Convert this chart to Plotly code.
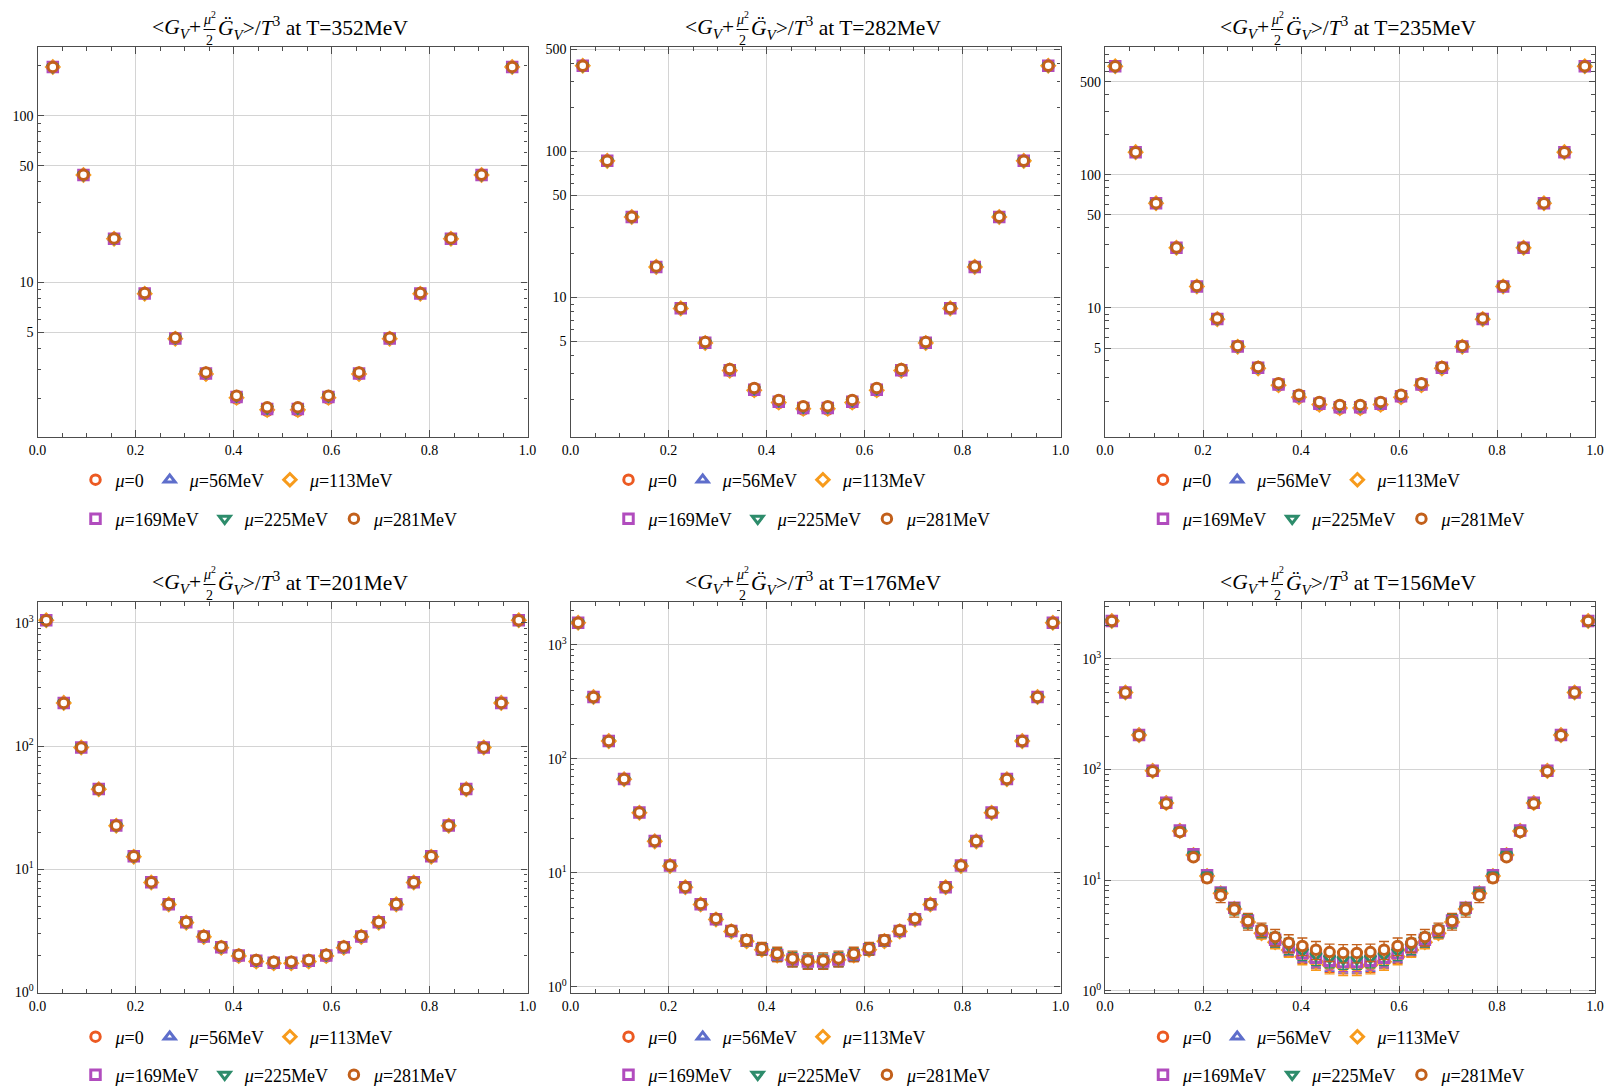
import numpy as np
import plotly.graph_objects as go

W, H = 1605, 1086

# temperatures and number of time slices of each panel
temperatures_mev = [352, 282, 235, 201, 176, 156]
n_tau = [16, 20, 24, 28, 32, 36]

mu_names = ["0", "56MeV", "113MeV", "169MeV", "225MeV", "281MeV"]
mu_colors = ["#EC5A22", "#5E6ECB", "#F79B1C", "#B14CBE", "#2D8C6B", "#C2601B"]
mu_symbols = ["circle", "triangle-up", "diamond", "square", "triangle-down", "circle"]

# <G_V + mu^2/2 G_V''>/T^3 for tau*T < 1/2 (the correlator is symmetric about 1/2)
# one row per chemical potential, ordered as mu_names
corr_T352 = [
    [196, 44.0, 18.2, 8.50, 4.55, 2.79, 2.00, 1.69],
    [196, 44.0, 18.2, 8.51, 4.56, 2.80, 2.01, 1.70],
    [196, 44.0, 18.2, 8.52, 4.57, 2.81, 2.02, 1.71],
    [196, 44.0, 18.2, 8.54, 4.59, 2.83, 2.04, 1.73],
    [196, 44.1, 18.3, 8.56, 4.61, 2.85, 2.06, 1.75],
    [196, 44.1, 18.3, 8.59, 4.63, 2.87, 2.08, 1.77],
]
corr_T282 = [
    [386, 86.2, 35.6, 16.2, 8.40, 4.86, 3.14, 2.30, 1.89, 1.71],
    [386, 86.2, 35.6, 16.2, 8.41, 4.87, 3.15, 2.31, 1.90, 1.72],
    [386, 86.2, 35.6, 16.2, 8.42, 4.88, 3.16, 2.32, 1.91, 1.73],
    [386, 86.2, 35.6, 16.2, 8.44, 4.90, 3.18, 2.34, 1.93, 1.75],
    [386, 86.3, 35.7, 16.3, 8.46, 4.92, 3.21, 2.37, 1.96, 1.77],
    [386, 86.3, 35.7, 16.3, 8.49, 4.95, 3.24, 2.40, 1.99, 1.80],
]
corr_T235 = [
    [653, 148, 61.2, 28.3, 14.5, 8.22, 5.09, 3.50, 2.61, 2.12, 1.86, 1.75],
    [653, 148, 61.2, 28.3, 14.5, 8.23, 5.10, 3.51, 2.62, 2.13, 1.87, 1.76],
    [653, 148, 61.2, 28.3, 14.5, 8.24, 5.11, 3.52, 2.63, 2.14, 1.88, 1.77],
    [653, 148, 61.2, 28.3, 14.5, 8.26, 5.13, 3.55, 2.66, 2.17, 1.91, 1.80],
    [653, 148, 61.3, 28.4, 14.6, 8.29, 5.16, 3.58, 2.69, 2.20, 1.94, 1.83],
    [653, 148, 61.3, 28.4, 14.6, 8.32, 5.19, 3.61, 2.72, 2.23, 1.97, 1.87],
]
corr_T201 = [
    [1051, 224, 97.4, 44.6, 22.5, 12.6, 7.78, 5.16, 3.67, 2.80, 2.28, 1.95, 1.77, 1.71],
    [1051, 224, 97.4, 44.6, 22.5, 12.6, 7.79, 5.17, 3.68, 2.81, 2.29, 1.96, 1.78, 1.72],
    [1051, 224, 97.4, 44.6, 22.5, 12.6, 7.79, 5.17, 3.68, 2.82, 2.30, 1.97, 1.78, 1.72],
    [1051, 224, 97.5, 44.7, 22.6, 12.7, 7.81, 5.19, 3.70, 2.84, 2.32, 1.99, 1.80, 1.74],
    [1051, 224, 97.5, 44.7, 22.6, 12.7, 7.82, 5.20, 3.71, 2.85, 2.33, 2.00, 1.81, 1.75],
    [1051, 224, 97.5, 44.7, 22.6, 12.7, 7.84, 5.22, 3.73, 2.87, 2.35, 2.02, 1.83, 1.77],
]
corr_T176 = [
    [1560, 348, 143, 66.3, 33.7, 18.9, 11.5, 7.46, 5.26, 3.88, 3.05, 2.50, 2.10, 1.87, 1.71, 1.64],
    [1560, 348, 143, 66.3, 33.7, 18.9, 11.5, 7.47, 5.27, 3.89, 3.06, 2.51, 2.11, 1.88, 1.72, 1.65],
    [1560, 348, 143, 66.3, 33.7, 18.9, 11.5, 7.48, 5.28, 3.90, 3.07, 2.52, 2.12, 1.89, 1.73, 1.66],
    [1560, 348, 143, 66.4, 33.8, 19.0, 11.6, 7.50, 5.30, 3.92, 3.09, 2.54, 2.14, 1.91, 1.74, 1.67],
    [1560, 348, 143, 66.4, 33.8, 19.0, 11.6, 7.52, 5.32, 3.94, 3.11, 2.56, 2.16, 1.93, 1.76, 1.69],
    [1560, 348, 143, 66.4, 33.8, 19.0, 11.6, 7.54, 5.35, 3.97, 3.14, 2.58, 2.18, 1.95, 1.78, 1.71],
]
corr_T156 = [
    [2203, 497, 205, 97.5, 50.0, 28.0, 17.0, 11.0, 7.65, 5.55, 4.22, 3.36, 2.79, 2.38, 2.08, 1.88, 1.76, 1.71],
    [2203, 497, 205, 97.5, 50.0, 28.0, 17.0, 11.0, 7.65, 5.56, 4.24, 3.38, 2.81, 2.41, 2.11, 1.91, 1.79, 1.74],
    [2203, 497, 205, 97.4, 49.9, 27.9, 16.9, 10.9, 7.60, 5.50, 4.18, 3.32, 2.75, 2.34, 2.03, 1.83, 1.71, 1.66],
    [2203, 497, 205, 97.6, 50.2, 28.2, 17.2, 11.1, 7.72, 5.62, 4.31, 3.45, 2.89, 2.48, 2.19, 1.99, 1.87, 1.82],
    [2203, 497, 205, 97.4, 50.0, 28.0, 17.0, 11.0, 7.62, 5.56, 4.30, 3.47, 2.93, 2.55, 2.28, 2.09, 1.98, 1.93],
    [2203, 497, 204, 96.6, 49.3, 27.2, 16.1, 10.4, 7.27, 5.43, 4.27, 3.59, 3.06, 2.72, 2.54, 2.35, 2.24, 2.20],
]

# statistical errors (only resolvable at the two lowest temperatures)
err_T176 = [
    [10, 2.5, 1.0, 0.5, 0.30, 0.18, 0.14, 0.13, 0.14, 0.16, 0.18, 0.19, 0.20, 0.20, 0.20, 0.20],
    [10, 2.5, 1.0, 0.5, 0.30, 0.18, 0.14, 0.13, 0.14, 0.16, 0.18, 0.19, 0.20, 0.20, 0.20, 0.20],
    [10, 2.5, 1.0, 0.5, 0.30, 0.18, 0.14, 0.13, 0.14, 0.16, 0.18, 0.19, 0.20, 0.20, 0.20, 0.20],
    [11, 2.7, 1.1, 0.5, 0.32, 0.20, 0.15, 0.14, 0.16, 0.18, 0.21, 0.22, 0.23, 0.23, 0.23, 0.23],
    [11, 2.8, 1.1, 0.6, 0.33, 0.21, 0.16, 0.15, 0.18, 0.20, 0.23, 0.25, 0.25, 0.25, 0.25, 0.25],
    [12, 3.0, 1.2, 0.6, 0.35, 0.22, 0.18, 0.17, 0.20, 0.22, 0.26, 0.28, 0.28, 0.28, 0.28, 0.28],
]
err_T156 = [
    [15, 3.8, 1.7, 1.0, 0.70, 0.60, 0.60, 0.60, 0.60, 0.50, 0.45, 0.38, 0.35, 0.33, 0.31, 0.30, 0.29, 0.29],
    [15, 3.8, 1.7, 1.0, 0.70, 0.60, 0.60, 0.60, 0.60, 0.50, 0.45, 0.38, 0.35, 0.33, 0.31, 0.30, 0.29, 0.29],
    [15, 3.8, 1.7, 1.0, 0.70, 0.60, 0.60, 0.60, 0.60, 0.50, 0.45, 0.38, 0.35, 0.33, 0.31, 0.30, 0.29, 0.29],
    [16, 4.0, 1.8, 1.1, 0.75, 0.65, 0.65, 0.70, 0.75, 0.60, 0.55, 0.42, 0.40, 0.38, 0.36, 0.35, 0.33, 0.33],
    [17, 4.2, 1.9, 1.1, 0.80, 0.75, 0.75, 0.80, 0.85, 0.70, 0.62, 0.45, 0.45, 0.43, 0.41, 0.40, 0.37, 0.37],
    [18, 4.5, 2.0, 1.2, 0.90, 0.85, 0.85, 0.90, 1.00, 0.80, 0.73, 0.50, 0.52, 0.49, 0.46, 0.44, 0.40, 0.41],
]

corr_by_panel = [corr_T352, corr_T282, corr_T235, corr_T201, corr_T176, corr_T156]
err_by_panel = [None, None, None, None, err_T176, err_T156]

# log10 ranges of the y axes
y_ranges = [[0.07, 2.412], [0.045, 2.715], [0.031, 2.96],
            [-0.006, 3.17], [-0.053, 3.375], [-0.02, 3.515]]

x_ticks = [0.0, 0.2, 0.4, 0.6, 0.8, 1.0]
x_tick_text = ["0.0", "0.2", "0.4", "0.6", "0.8", "1.0"]

FONT = "Liberation Serif, Times New Roman, serif"
FRAME = "#4d4d4d"
GRID = "#d4d4d4"

# panel placement in pixels
panel_left = [37.5, 570.5, 1105.0]
panel_top = [47.0, 602.0]
panel_w = 490.0
panel_h = [390.0, 391.0]
legend_rows_y = [[480, 519], [1037, 1075]]


def mirror(half):
    return list(half) + list(half[::-1])


fig = go.Figure()
layout = dict(
    template="none",
    width=W, height=H,
    margin=dict(l=0, r=0, t=0, b=0, autoexpand=False),
    paper_bgcolor="white", plot_bgcolor="white",
    font=dict(family=FONT, color="black"),
    hovermode="closest",
    annotations=[], shapes=[],
)

minor_x = [round(0.05 * i, 2) for i in range(1, 20) if i % 4 != 0]

for k in range(6):
    row, col = divmod(k, 3)
    ax = "" if k == 0 else str(k + 1)
    x0 = panel_left[col]
    y0 = panel_top[row]
    h = panel_h[row]

    N = n_tau[k]
    tau = (np.arange(N) + 0.5) / N
    rows = corr_by_panel[k]
    errs = err_by_panel[k]

    for m in range(6):
        lid = 2 * k + (0 if m < 3 else 1) + 1
        legend_name = "legend" if lid == 1 else f"legend{lid}"
        err = None
        if errs is not None:
            err = dict(type="data", array=mirror(errs[m]), color=mu_colors[m],
                       thickness=1.3, width=5, visible=True)
        fig.add_trace(go.Scatter(
            x=tau, y=mirror(rows[m]),
            mode="markers",
            name=f"<i>μ</i>={mu_names[m]}",
            legend=legend_name,
            xaxis="x" + ax, yaxis="y" + ax,
            marker=dict(symbol=mu_symbols[m], size=9.5, color="white",
                        line=dict(color=mu_colors[m], width=3)),
            error_y=err,
            hoverinfo="x+y",
        ))

    for half in range(2):
        lid = 2 * k + half + 1
        legend_name = "legend" if lid == 1 else f"legend{lid}"
        layout[legend_name] = dict(
            orientation="h", xanchor="left", yanchor="middle",
            x=(x0 + 38) / W, y=1 - legend_rows_y[row][half] / H,
            font=dict(family=FONT, size=18, color="black"),
            bgcolor="rgba(0,0,0,0)", borderwidth=0,
            itemwidth=30, traceorder="normal",
        )

    if k < 3:
        ytv = [5, 10, 50, 100, 500]
        ytt = ["5", "10", "50", "100", "500"]
        minor_y = [d * 10 ** e for e in range(0, 4) for d in range(1, 10)
                   if d not in (1, 5)]
    else:
        ytv = [1, 10, 100, 1000]
        ytt = ["10<sup>0</sup>", "10<sup>1</sup>", "10<sup>2</sup>", "10<sup>3</sup>"]
        minor_y = [d * 10 ** e for e in range(0, 4) for d in range(2, 10)]

    layout["xaxis" + ax] = dict(
        domain=[x0 / W, (x0 + panel_w) / W], anchor="y" + ax,
        automargin=False,
        range=[0, 1], tickvals=x_ticks, ticktext=x_tick_text,
        ticks="inside", ticklen=7, tickwidth=1, tickcolor=FRAME,
        showline=True, linecolor=FRAME, linewidth=1.3, mirror="ticks",
        showgrid=True, gridcolor=GRID, gridwidth=1, zeroline=False,
        tickfont=dict(family=FONT, size=14, color="black"),
        minor=dict(tickvals=minor_x, ticks="inside", ticklen=4,
                   tickcolor=FRAME, showgrid=False),
        fixedrange=True,
    )
    layout["yaxis" + ax] = dict(
        domain=[1 - (y0 + h) / H, 1 - y0 / H], anchor="x" + ax,
        automargin=False,
        type="log", range=y_ranges[k], tickvals=ytv, ticktext=ytt,
        ticks="inside", ticklen=6, tickwidth=1, tickcolor=FRAME,
        showline=True, linecolor=FRAME, linewidth=1.3, mirror="ticks",
        showgrid=True, gridcolor=GRID, gridwidth=1, zeroline=False,
        tickfont=dict(family=FONT, size=14, color="black"),
        minor=dict(tickvals=minor_y, ticks="inside", ticklen=3.5,
                   tickcolor=FRAME, showgrid=False),
        fixedrange=True,
    )

    # panel title with a stacked mu^2/2 fraction
    cx = x0 + panel_w / 2
    fx = cx - 73
    yc = y0 - 19
    T = temperatures_mev[k]
    layout["annotations"] += [
        dict(xref="paper", yref="paper", x=(fx - 6.5) / W, y=1 - yc / H,
             xanchor="right", yanchor="middle", showarrow=False,
             text="&lt;<i>G</i><sub><i>V</i></sub>+<sup>\u200b</sup>",
             font=dict(family=FONT, size=21.5, color="black")),
        dict(xref="paper", yref="paper", x=fx / W, y=1 - (yc - 10.5) / H,
             xanchor="center", yanchor="middle", showarrow=False,
             text="<i>μ</i><sup>2</sup>",
             font=dict(family=FONT, size=14, color="black")),
        dict(xref="paper", yref="paper", x=fx / W, y=1 - (yc + 12.5) / H,
             xanchor="center", yanchor="middle", showarrow=False,
             text="2", font=dict(family=FONT, size=14, color="black")),
        dict(xref="paper", yref="paper", x=(fx + 6.5) / W, y=1 - yc / H,
             xanchor="left", yanchor="middle", showarrow=False,
             text=f"<i>G\u0308</i><sub><i>V</i></sub>&gt;/<i>T</i><sup>3</sup> at T={T}MeV",
             font=dict(family=FONT, size=21.5, color="black")),
    ]
    layout["shapes"].append(dict(
        type="line", xref="paper", yref="paper",
        x0=(fx - 6) / W, x1=(fx + 6) / W,
        y0=1 - (yc + 1.5) / H, y1=1 - (yc + 1.5) / H,
        line=dict(color="black", width=1),
    ))

fig.update_layout(**layout)
fig.write_html("out.html")
